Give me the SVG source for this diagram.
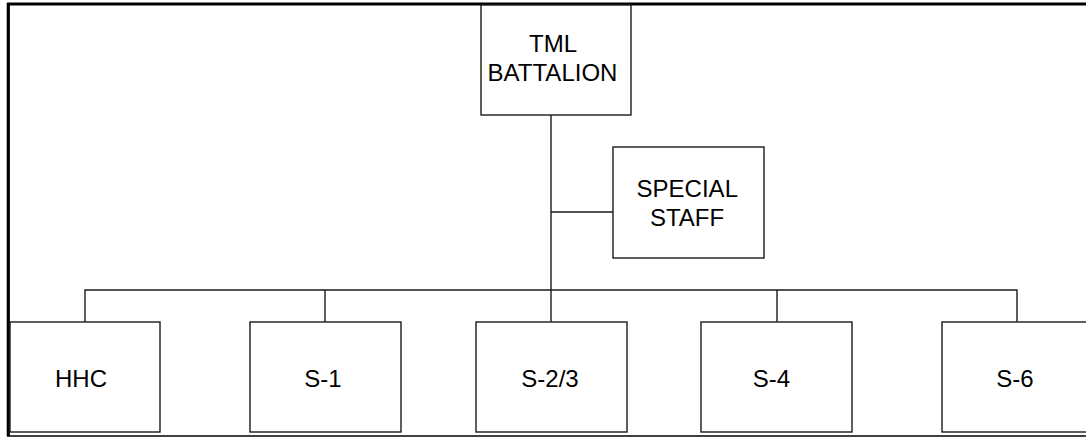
<svg xmlns="http://www.w3.org/2000/svg" width="1086" height="438" viewBox="0 0 1086 438">
<style>
.box{fill:#fff;stroke:#1a1a1a;stroke-width:1.4}
.ln{fill:none;stroke:#1a1a1a;stroke-width:1.4}
.fr{fill:none;stroke:#000}
text{font-family:"Liberation Sans",Arial,sans-serif;font-size:24px;fill:#000;text-anchor:middle}
</style>
<rect width="1086" height="438" fill="#fff"/>
<g id="frame">
<line class="fr" x1="7" y1="4" x2="1086" y2="4" stroke-width="3.2"/>
<line class="fr" x1="8.3" y1="3" x2="8.3" y2="436" stroke-width="3.2"/>
<line class="fr" x1="7" y1="436" x2="1086" y2="436" stroke-width="1.6"/>
</g>
<g id="connectors">
<line class="ln" x1="551" y1="115" x2="551" y2="322"/>
<line class="ln" x1="551" y1="212" x2="613" y2="212"/>
<polyline class="ln" points="85,322 85,290 1017,290 1017,322"/>
<line class="ln" x1="325" y1="290" x2="325" y2="322"/>
<line class="ln" x1="777" y1="290" x2="777" y2="322"/>
</g>
<g id="tml">
<rect class="box" x="481" y="5" width="150" height="110"/>
<text x="553" y="52">TML</text>
<text x="552.5" y="81">BATTALION</text>
</g>
<g id="special">
<rect class="box" x="613" y="147" width="151" height="111"/>
<text x="687.3" y="197">SPECIAL</text>
<text x="687" y="226">STAFF</text>
</g>
<g id="hhc">
<rect class="box" x="10" y="322" width="150" height="110"/>
<text x="81" y="387">HHC</text>
</g>
<g id="s1">
<rect class="box" x="250" y="322" width="151" height="110"/>
<text x="323" y="387">S-1</text>
</g>
<g id="s23">
<rect class="box" x="476" y="322" width="151" height="110"/>
<text x="550" y="387">S-2/3</text>
</g>
<g id="s4">
<rect class="box" x="701" y="322" width="151" height="110"/>
<text x="771.5" y="387">S-4</text>
</g>
<g id="s6">
<rect class="box" x="942" y="322" width="150" height="110"/>
<text x="1015" y="387">S-6</text>
</g>
</svg>
